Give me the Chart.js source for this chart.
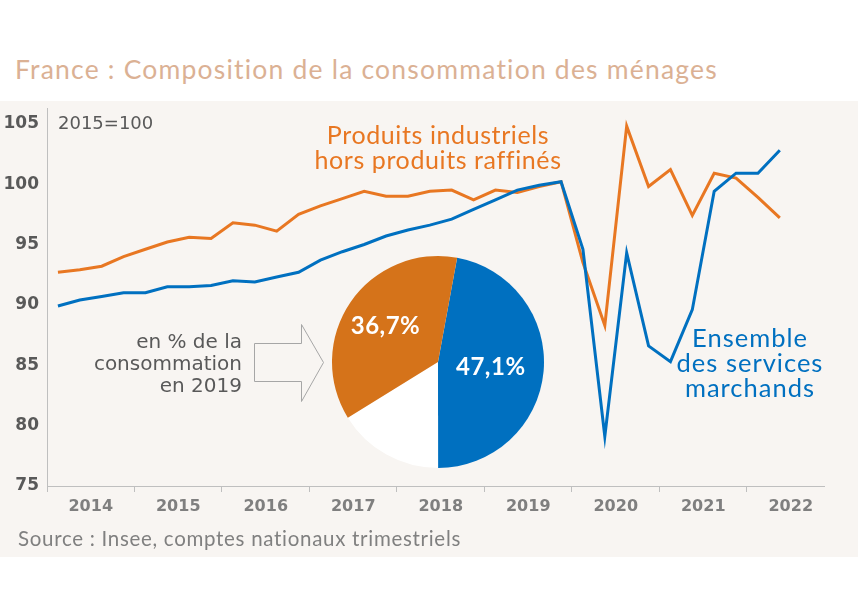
<!DOCTYPE html>
<html lang="fr">
<head>
    <meta charset="UTF-8"/>
    <title>Composition de la consommation</title>
    <script src="https://cdn.jsdelivr.net/npm/chart.js"></script>
    <style>
        body { margin: 0; background: #ffffff; }
        #wrap { position: relative; width: 858px; height: 600px; overflow: hidden; }
        #panel { position: absolute; left: 0; top: 101px; width: 858px; height: 456px; background: #f8f5f2; }
        #lines { position: absolute; left: 0; top: 0; }
        #pie { position: absolute; left: 328px; top: 252px; }
        .txt { position: absolute; white-space: nowrap; }
        #title { left: 15px; top: 54px; font: 26.5px Lato, sans-serif; letter-spacing: 1.2px; line-height: 30px; color: #dbb194; }
        #source { left: 18px; top: 526px; font: 20.5px Lato, sans-serif; letter-spacing: 0.7px; line-height: 24px; color: #808080; }
        #base { left: 58px; top: 112px; font: 18px "DejaVu Sans", sans-serif; line-height: 22px; color: #595959; }
        #note { left: 42px; width: 200px; top: 330px; text-align: right; font: 20px "DejaVu Sans", sans-serif; line-height: 22px; color: #595959; }
        #lblInd { left: 238px; width: 400px; top: 122px; text-align: center; font: 25px Lato, sans-serif; letter-spacing: 0.6px; line-height: 25px; color: #e87722; }
        #lblServ { left: 550px; width: 400px; top: 325px; text-align: center; font: 25.5px Lato, sans-serif; letter-spacing: 1px; line-height: 25px; color: #0070c0; }
    </style>
</head>
<body>
<div id="wrap">
    <div id="panel"></div>
    <div class="txt" id="title">France : Composition de la consommation des ménages</div>
    <canvas id="lines" width="858" height="600"></canvas>
    <canvas id="pie" width="220" height="220"></canvas>
    <div class="txt" id="base">2015=100</div>
    <div class="txt" id="note">en % de la<br>consommation<br>en 2019</div>
    <div class="txt" id="lblInd">Produits industriels<br>hors produits raffinés</div>
    <div class="txt" id="lblServ">Ensemble<br>des services<br>marchands</div>
    <div class="txt" id="source">Source : Insee, comptes nationaux trimestriels</div>
</div>
<script>
// trimestres 2014T1 .. 2022T2
const trimestres = [
    '2014T1','2014T2','2014T3','2014T4','2015T1','2015T2','2015T3','2015T4',
    '2016T1','2016T2','2016T3','2016T4','2017T1','2017T2','2017T3','2017T4',
    '2018T1','2018T2','2018T3','2018T4','2019T1','2019T2','2019T3','2019T4',
    '2020T1','2020T2','2020T3','2020T4','2021T1','2021T2','2021T3','2021T4',
    '2022T1','2022T2'
];
const annees = [2014, 2015, 2016, 2017, 2018, 2019, 2020, 2021, 2022];
const yTicks = [75, 80, 85, 90, 95, 100, 105];

const services = [89.9, 90.4, 90.7, 91.0, 91.0, 91.5, 91.5, 91.6, 92.0, 91.9, 92.3, 92.7,
    93.7, 94.4, 95.0, 95.7, 96.2, 96.6, 97.1, 97.9, 98.7, 99.5, 99.9, 100.2,
    94.6, 79.1, 94.3, 86.6, 85.3, 89.6, 99.4, 100.9, 100.9, 102.8];
const industriels = [92.7, 92.9, 93.2, 94.0, 94.6, 95.2, 95.6, 95.5, 96.8, 96.6, 96.1, 97.5,
    98.2, 98.8, 99.4, 99.0, 99.0, 99.4, 99.5, 98.7, 99.5, 99.3, 99.8, 100.2,
    93.5, 88.3, 104.8, 99.8, 101.2, 97.4, 100.9, 100.5, 98.9, 97.2];

// parts dans la consommation 2019
const partsLabels = ['Services marchands', 'Autres', 'Produits industriels'];
const parts = [47.1, 16.2, 36.7];
const partsCouleurs = ['#0070c0', '#ffffff', '#d5731a'];
const partsTexte = ['47,1%', '', '36,7%'];
const partsRayonTexte = [0.5, 0, 0.6];

function enPoints(valeurs) {
    return valeurs.map(function(v, i) {
        var an = parseInt(trimestres[i].slice(0, 4));
        var t = parseInt(trimestres[i].slice(5));
        return { x: an + (t - 0.5) / 4, y: v };
    });
}

const fleche = {
    id: 'fleche',
    afterDraw: function(chart) {
        var ctx = chart.ctx;
        ctx.save();
        ctx.strokeStyle = '#a6a6a6';
        ctx.lineWidth = 1;
        ctx.beginPath();
        ctx.moveTo(254.5, 343.5);
        ctx.lineTo(301.5, 343.5);
        ctx.lineTo(301.5, 324.5);
        ctx.lineTo(323.5, 362.5);
        ctx.lineTo(301.5, 401.5);
        ctx.lineTo(301.5, 381.5);
        ctx.lineTo(254.5, 381.5);
        ctx.closePath();
        ctx.stroke();
        ctx.restore();
    }
};

new Chart(document.getElementById('lines'), {
    type: 'line',
    data: {
        datasets: [{
            label: 'Ensemble des services marchands',
            data: enPoints(services),
            borderColor: '#0070c0',
            borderWidth: 3,
            pointRadius: 0,
            tension: 0
        }, {
            label: 'Produits industriels hors produits raffinés',
            data: enPoints(industriels),
            borderColor: '#e87722',
            borderWidth: 3,
            pointRadius: 0,
            tension: 0
        }]
    },
    options: {
        responsive: false,
        animation: false,
        layout: { padding: { left: 0, top: 108, right: 34, bottom: 74 } },
        plugins: { legend: { display: false }, tooltip: { enabled: false } },
        scales: {
            x: {
                type: 'linear',
                min: 2014,
                max: 2022.88,
                afterBuildTicks: function(s) {
                    var t = [];
                    annees.forEach(function(a) { t.push({ value: a }); t.push({ value: a + 0.5 }); });
                    s.ticks = t;
                },
                afterFit: function(s) { s.height = 40; },
                ticks: {
                    autoSkip: false,
                    maxRotation: 0,
                    padding: 5,
                    color: '#7f7f7f',
                    font: { family: 'DejaVu Sans', size: 16, weight: 'bold' },
                    callback: function(v) { return Number.isInteger(v) ? '' : String(Math.floor(v)); }
                },
                grid: {
                    drawOnChartArea: false,
                    drawTicks: true,
                    tickLength: 6,
                    tickColor: function(c) { return c.tick && Number.isInteger(c.tick.value) ? '#bfbfbf' : 'rgba(0,0,0,0)'; }
                },
                border: { color: '#bfbfbf', width: 1 }
            },
            y: {
                min: 75,
                max: 106.3,
                afterBuildTicks: function(s) { s.ticks = yTicks.map(function(v) { return { value: v }; }); },
                afterFit: function(s) { s.width = 47; },
                ticks: {
                    padding: 8,
                    color: '#595959',
                    font: { family: 'DejaVu Sans', size: 17, weight: 'bold' }
                },
                grid: { drawOnChartArea: false, drawTicks: false },
                border: { color: '#bfbfbf', width: 1 }
            }
        }
    },
    plugins: [fleche]
});

const textesParts = {
    id: 'textesParts',
    afterDatasetsDraw: function(chart) {
        var ctx = chart.ctx;
        ctx.save();
        ctx.fillStyle = '#ffffff';
        ctx.font = 'bold 24px Lato';
        ctx.letterSpacing = '0.5px';
        ctx.textAlign = 'center';
        ctx.textBaseline = 'middle';
        chart.getDatasetMeta(0).data.forEach(function(arc, i) {
            if (!partsTexte[i]) return;
            var p = arc.getProps(['x', 'y', 'startAngle', 'endAngle', 'outerRadius'], true);
            var a = (p.startAngle + p.endAngle) / 2;
            var r = p.outerRadius * partsRayonTexte[i];
            ctx.fillText(partsTexte[i], p.x + Math.cos(a) * r, p.y + Math.sin(a) * r);
        });
        ctx.restore();
    }
};

new Chart(document.getElementById('pie'), {
    type: 'pie',
    data: {
        labels: partsLabels,
        datasets: [{ data: parts, backgroundColor: partsCouleurs, borderWidth: 0 }]
    },
    options: {
        responsive: false,
        animation: false,
        rotation: 10.4,
        radius: 106,
        plugins: { legend: { display: false }, tooltip: { enabled: false } }
    },
    plugins: [textesParts]
});
</script>
</body>
</html>
